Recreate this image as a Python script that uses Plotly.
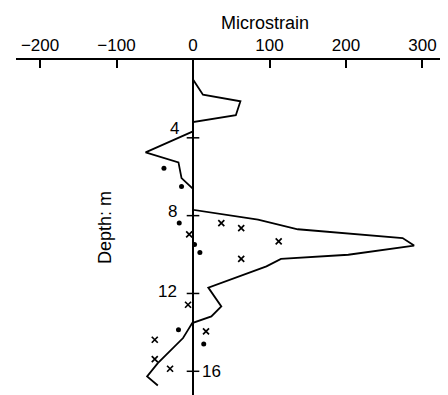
import plotly.graph_objects as go

# Data (microstrain, depth in m)
profile_strain = [0, 13, 62, 56, 0, 0, -62, -19, -15, -2, 0, 0, 85, 137, 274, 289, 203, 115, 96, 20, 37, 24, -1, -6.5, -13, -46, -60, -46]
profile_depth = [1.0, 1.78, 2.12, 2.84, 3.19, 3.67, 4.75, 5.26, 6.07, 6.53, 6.62, 7.70, 8.21, 8.70, 9.15, 9.54, 10.01, 10.22, 10.61, 11.70, 12.67, 13.18, 13.52, 13.87, 14.29, 15.58, 16.26, 16.73]

dots_strain = [-38, -15, -18, 2, 9, -19, 14]
dots_depth = [5.57, 6.50, 8.38, 9.48, 9.89, 13.87, 14.60]

cross_strain = [-5, 37, 63, 112, 63, -6.5, 17, -50, -50, -30]
cross_depth = [8.96, 8.38, 8.64, 9.32, 10.22, 12.58, 13.95, 14.38, 15.37, 15.87]

x_ticks = [-200, -100, 0, 100, 200, 300]
depth_ticks = [4, 8, 12, 16]

FONT = "Liberation Sans, Arial, sans-serif"

fig = go.Figure()
fig.add_trace(go.Scatter(x=profile_strain, y=profile_depth, mode="lines",
                         line=dict(color="black", width=1.8), hoverinfo="skip"))
fig.add_trace(go.Scatter(x=dots_strain, y=dots_depth, mode="markers",
                         marker=dict(symbol="circle", size=5, color="black")))
fig.add_trace(go.Scatter(x=cross_strain, y=cross_depth, mode="markers",
                         marker=dict(symbol="x-thin", size=6, line=dict(color="black", width=1.7))))
# depth tick marks crossing the vertical axis
fig.add_trace(go.Scatter(x=[0] * len(depth_ticks), y=depth_ticks, mode="markers",
                         marker=dict(symbol="line-ew", size=9, line=dict(color="black", width=1.5))))

# depth labels: 4, 8, 12 on the left, 16 on the right
label_cfg = {4: ("right", -12, 9), 8: ("right", -14, 4), 12: ("right", -14, 2), 16: ("left", 7, 0)}
for d in depth_ticks:
    anchor, xs, ys = label_cfg[d]
    fig.add_annotation(x=0, y=d, xref="x", yref="y", text=str(d), showarrow=False,
                       xanchor=anchor, yanchor="middle", xshift=xs, yshift=ys,
                       font=dict(family=FONT, size=17, color="black"))

fig.add_annotation(x=94, y=1, xref="x", yref="paper", text="Microstrain", showarrow=False,
                   xanchor="center", yanchor="middle", yshift=37,
                   font=dict(family=FONT, size=18, color="black"))
fig.add_annotation(x=-114, y=8.6, xref="x", yref="y", text="Depth: m", showarrow=False,
                   textangle=-90, xanchor="center", yanchor="middle",
                   font=dict(family=FONT, size=18, color="black"))

fig.update_layout(
    width=448, height=395,
    margin=dict(l=8, r=1, t=52, b=0),
    plot_bgcolor="white", paper_bgcolor="white",
    showlegend=False,
    xaxis=dict(side="top", range=[-231.4, 342.5], tickvals=x_ticks,
               showline=True, linecolor="black", linewidth=2,
               ticks="inside", ticklen=8, tickwidth=1.5, tickcolor="black",
               showgrid=False, zeroline=True, zerolinecolor="black", zerolinewidth=2,
               tickfont=dict(family=FONT, size=17, color="black")),
    yaxis=dict(range=[17.63, 0], visible=False, showgrid=False, zeroline=False),
)

fig.write_html("out.html")
